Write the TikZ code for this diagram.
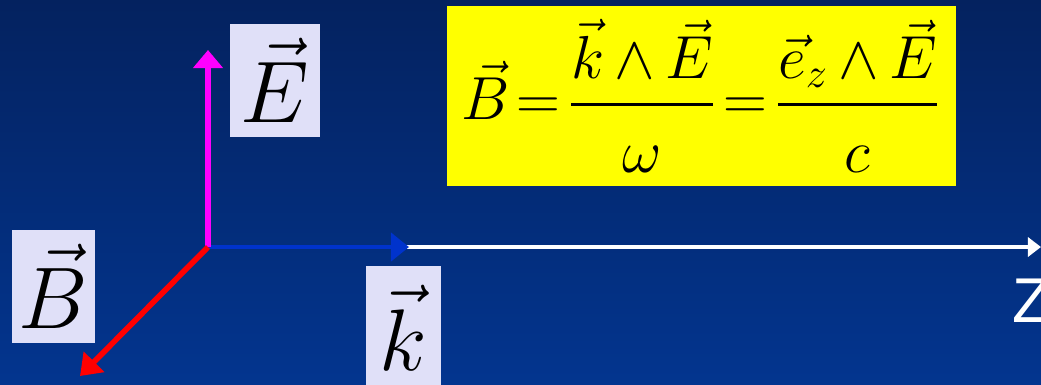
\documentclass[tikz,border=0pt]{standalone}
\usepackage{amsmath}
\usepackage{fontspec}
\setsansfont{Liberation Sans}
\definecolor{bgTop}      {HTML}{04225F}
\definecolor{bgBottom}   {HTML}{03358F}
\definecolor{labelBack}  {HTML}{E0E0F8}
\definecolor{formulaBack}{HTML}{FFFF00}
\definecolor{eField}     {HTML}{FF00FF}
\definecolor{bField}     {HTML}{FF0000}
\definecolor{kVec}       {HTML}{0033CC}
\usetikzlibrary{arrows.meta, positioning}
\tikzset{
    lbl/.style={fill=labelBack, inner sep=0pt, font=\fontsize{23}{23}\selectfont},
    formula/.style={fill=formulaBack, inner sep=0pt, minimum width=5.09cm,
                    minimum height=1.8cm, font=\fontsize{18}{18}\selectfont},
    efield/.style={-{Triangle[length=1.8mm, width=2.9mm]}, line width=1.6pt, eField},
    bfield/.style={-{Triangle[length=2mm, width=2.8mm]}, line width=1.6pt, bField},
    kvec/.style={-{Triangle[length=1.8mm, width=2.8mm]}, line width=1.2pt, kVec},
    axis/.style={-{Triangle[length=1.3mm, width=1.9mm]}, line width=0.9pt, white},
}

\begin{document}
\begin{tikzpicture}[x=0.01cm, y=-0.01cm]
    \shade[top color=bgTop, bottom color=bgBottom] (0,0) rectangle (1041,384);
    \useasboundingbox (0,0) rectangle (1041,384);
    % origin and arrow ends
    \coordinate (O)    at (208,247);
    \coordinate (Etip) at (208,50);
    \coordinate (Btip) at (80,376);
    \coordinate (ktip) at (409,247);
    \coordinate (Zend) at (1041,247);
    % labels
    \node[lbl, minimum width=0.9cm, minimum height=1.13cm]  (Ebox) at (275,80.5) {$\vec{E}$};
    \node[lbl, minimum width=0.83cm, minimum height=1.13cm] (Bbox) at (53.5,286.5) {$\vec{B}$};
    \node[lbl, minimum width=0.75cm, minimum height=1.24cm] (kbox) at (403.5,328) {$\vec{k}$};
    \node[formula] (rel) at (701.5,96)
        {$\thickmuskip=2mu \medmuskip=3mu
          \vec{B}=\dfrac{\vec{k}\wedge\vec{E}}{\rule{0pt}{0.95em}\omega}
          =\dfrac{\vec{e}_z\wedge\vec{E}}{\rule{0pt}{0.95em}c}$};
    \node[anchor=base west, inner sep=0pt, white,
          font=\sffamily\fontsize{18}{18}\selectfont] (Z) at (1012,322) {Z};
    % vectors
    \draw[axis]   (O) -- (Zend);
    \draw[kvec]   (O) -- (ktip);
    \draw[efield] (O) -- (Etip);
    \draw[bfield] (O) -- (Btip);
\end{tikzpicture}
\end{document}
